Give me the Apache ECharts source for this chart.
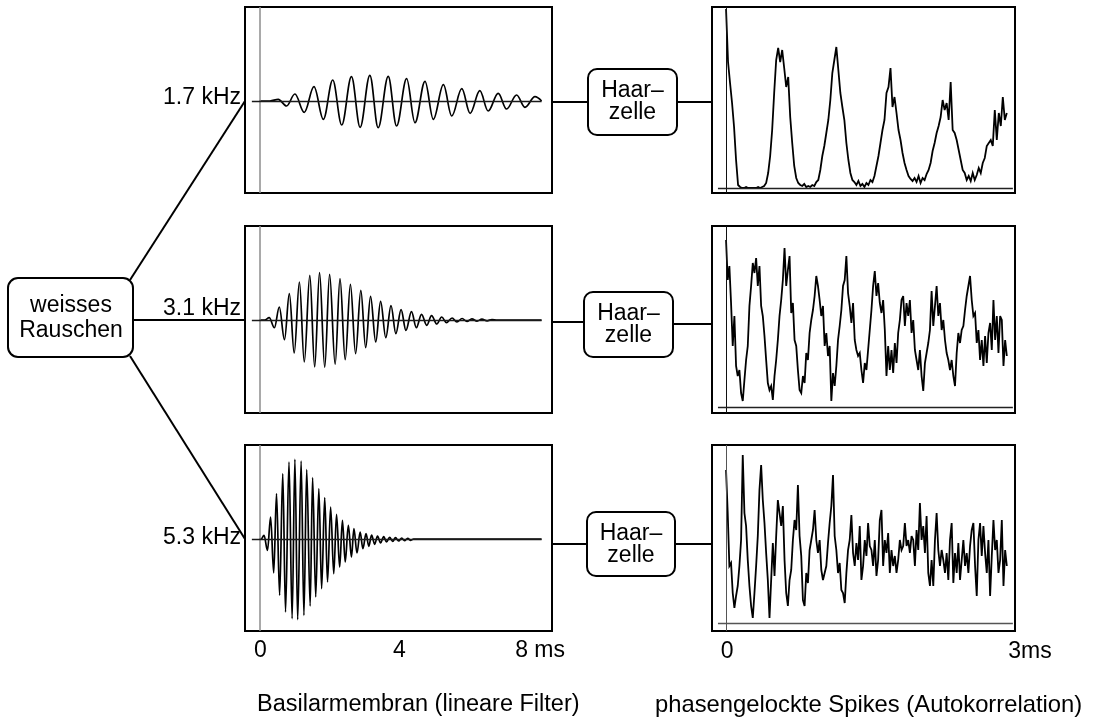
<!DOCTYPE html>
<html>
<head>
<meta charset="utf-8">
<script src="https://cdn.jsdelivr.net/npm/echarts@6/dist/echarts.min.js"></script>
<style>
  html, body { margin: 0; padding: 0; background: #fff; }
  #chart { width: 1099px; height: 719px; }
</style>
</head>
<body>
<div id="chart"></div>
<script>
// ---- Basilar membrane impulse responses: successive extrema (time in ms, amplitude arb. units) ----
const bm17Time = [0, 0.30, 0.54, 0.78, 1.02, 1.29, 1.57, 1.84, 2.11, 2.37, 2.65, 2.90, 3.18, 3.42, 3.71, 3.95, 4.24, 4.48, 4.77, 5.01, 5.30, 5.54, 5.83, 6.07, 6.35, 6.59, 6.88, 7.12, 7.41, 7.65, 7.94, 8.13];
const bm17Amp  = [0, 0, 1.7, -5, 7, -11.3, 14.3, -18.3, 21, -24, 24.3, -26.3, 25.7, -26.7, 24.7, -25, 22.3, -21.7, 19.7, -18.3, 16.3, -15, 12.3, -12.3, 10.3, -10, 7.7, -8, 6, -6.3, 4.3, 0];

const bm31Time = [0, 0.15, 0.28, 0.43, 0.57, 0.72, 0.86, 1.00, 1.15, 1.29, 1.45, 1.59, 1.73, 1.88, 2.02, 2.18, 2.32, 2.47, 2.62, 2.77, 2.92, 3.06, 3.20, 3.35, 3.49, 3.64, 3.79, 3.93, 4.08, 4.22, 4.38, 4.52, 4.67, 4.82, 4.96, 5.11, 5.25, 5.39, 5.55, 5.69, 5.84, 5.98, 6.12, 6.27, 6.41, 6.56, 6.70, 6.85, 8.13];
const bm31Amp  = [0, 0, 2.3, -7.7, 13, -19.7, 26.3, -33, 38, -42, 44.7, -47, 47.3, -47.3, 45.7, -44.3, 41.3, -39.7, 35.7, -33.7, 29.7, -27.7, 23.7, -22, 18.7, -17.7, 14.3, -13.7, 10.3, -10.3, 8.3, -7.7, 5.7, -5.3, 4.3, -4, 3, -2.7, 2, -2, 1.5, -1.5, 1.2, -1.1, 0.9, -0.8, 0.5, 0, 0];

const bm53Time = [0, 0.05, 0.13, 0.23, 0.32, 0.41, 0.49, 0.58, 0.67, 0.75, 0.85, 0.94, 1.02, 1.10, 1.20, 1.28, 1.36, 1.46, 1.53, 1.62, 1.71, 1.79, 1.88, 1.96, 2.05, 2.14, 2.22, 2.31, 2.39, 2.47, 2.56, 2.65, 2.72, 2.81, 2.90, 2.98, 3.07, 3.15, 3.23, 3.32, 3.40, 3.49, 3.58, 3.66, 3.75, 3.84, 3.92, 4.01, 4.10, 4.18, 4.27, 4.36, 4.44, 8.13];
const bm53Amp  = [0, 0, 3.7, -11.3, 22, -34, 45.3, -56.3, 65.3, -73, 77, -79.7, 79.7, -80.7, 78, -76.3, 69.3, -67, 61.3, -58, 50.3, -49.7, 41.3, -43, 32, -34.7, 24.7, -28, 18.7, -23, 13.7, -18, 10.3, -14, 7, -9.7, 5.3, -7.3, 4, -5.3, 3, -4, 2.3, -3, 1.7, -2.3, 1.3, -2, 1, -1.7, 0.7, -1.3, 0, 0];

// ---- Autocorrelation of phase-locked spikes, sampled evenly from 0 to LAG_END_MS ----
const LAG_END_MS = 2.78;
const acTop = [179, 126, 105, 85, 61, 28, 3, 1, 0, 0, 1, 0, 0, 0, 0, 0, 1, 0, 1, 2, 5, 15, 32, 58, 95, 128, 140, 126, 138, 120, 101, 111, 71, 45, 22, 10, 5, 3, 2, 4, 1, 2, 1, 3, 2, 6, 8, 18, 32, 42, 55, 68, 88, 115, 128, 141, 118, 95, 81, 68, 45, 28, 15, 8, 6, 3, 7, 2, 4, 1, 5, 3, 8, 6, 12, 22, 32, 45, 58, 68, 95, 101, 120, 81, 91, 75, 58, 48, 35, 25, 18, 12, 9, 7, 10, 6, 12, 5, 10, 8, 14, 18, 25, 37, 45, 55, 62, 71, 88, 78, 85, 68, 106, 58, 55, 48, 38, 28, 18, 15, 8, 12, 7, 15, 8, 13, 20, 15, 25, 30, 42, 45, 48, 42, 78, 48, 75, 62, 91, 68, 75];
const acMid = [167, 127, 141, 104, 61, 91, 41, 31, 37, 14, 6, 27, 47, 61, 101, 121, 144, 134, 149, 121, 141, 101, 91, 71, 47, 24, 17, 21, 7, 31, 47, 67, 91, 107, 127, 159, 121, 137, 151, 94, 104, 67, 61, 37, 17, 14, 31, 24, 54, 47, 74, 87, 97, 111, 131, 121, 107, 91, 101, 61, 74, 51, 61, 6, 34, 21, 41, 67, 81, 97, 121, 127, 151, 114, 101, 84, 104, 67, 57, 51, 54, 37, 24, 44, 37, 57, 77, 97, 121, 136, 111, 124, 104, 94, 107, 77, 31, 61, 37, 57, 34, 64, 44, 74, 87, 107, 111, 81, 104, 91, 107, 74, 87, 57, 47, 37, 57, 31, 16, 44, 54, 64, 77, 116, 81, 101, 121, 91, 104, 77, 87, 67, 54, 47, 37, 47, 31, 21, 54, 74, 64, 77, 81, 97, 111, 121, 131, 107, 91, 94, 64, 77, 47, 67, 41, 71, 44, 74, 84, 57, 107, 67, 91, 54, 91, 87, 41, 67, 51];
const acBot = [153, 110, 57, 60, 30, 15, 27, 37, 57, 83, 168, 110, 97, 63, 37, 17, 5, 30, 57, 87, 133, 158, 123, 100, 70, 43, 5, 43, 80, 47, 87, 123, 110, 97, 117, 63, 30, 17, 43, 53, 83, 103, 93, 138, 87, 67, 23, 17, 50, 40, 73, 83, 93, 113, 83, 70, 83, 53, 43, 50, 57, 80, 100, 117, 148, 87, 73, 50, 60, 33, 30, 20, 50, 73, 83, 108, 70, 57, 80, 63, 97, 43, 57, 83, 67, 100, 77, 73, 57, 83, 47, 63, 103, 113, 57, 83, 70, 90, 50, 73, 57, 67, 50, 63, 83, 73, 77, 100, 77, 83, 70, 87, 83, 57, 93, 73, 120, 83, 97, 70, 107, 50, 37, 63, 37, 83, 110, 73, 57, 73, 63, 50, 70, 43, 83, 100, 40, 70, 50, 80, 43, 63, 83, 57, 70, 50, 77, 93, 100, 57, 27, 83, 100, 67, 97, 70, 50, 83, 27, 67, 103, 73, 83, 50, 63, 103, 37, 73, 57];

// ---- Texts and tick labels ----
const filterLabels = ['1.7 kHz', '3.1 kHz', '5.3 kHz'];
const sourceLabel = ['weisses', 'Rauschen'];
const hairCellLabel = ['Haar\u2013', 'zelle'];
const bmTicks = [0, 4, 8];
const bmTickText = ['0', '4', '8 ms'];
const acTicks = [0, 3];
const acTickText = ['0', '3ms'];
const captions = ['Basilarmembran (lineare Filter)', 'phasengelockte Spikes (Autokorrelation)'];

// ---- Layout ----
const FONT = '"Liberation Sans", Arial, Helvetica, sans-serif';
const rows = [{ top: 7, height: 186 }, { top: 226, height: 187 }, { top: 445, height: 186 }];
const LEFT = { left: 245, width: 307, xMin: -0.418, xMax: 8.43 };
const RIGHT = { left: 712, width: 303, xMin: -0.139, xMax: 2.861 };
const bmY = [[-92, 94], [-93, 94], [-92, 94]];
const acY = [[-5, 181], [-6, 181], [-8, 178]];

const chart = echarts.init(document.getElementById('chart'), null, { renderer: 'canvas' });

const grids = [], xAxes = [], yAxes = [], series = [];

function addPanel(cfg, row, yr) {
  const idx = grids.length;
  grids.push({
    left: cfg.left, top: row.top, width: cfg.width, height: row.height,
    show: true, borderColor: '#000', borderWidth: 2, backgroundColor: 'transparent', containLabel: false
  });
  xAxes.push({ type: 'value', gridIndex: idx, min: cfg.xMin, max: cfg.xMax, show: false });
  yAxes.push({ type: 'value', gridIndex: idx, min: yr[0], max: yr[1], show: false });
  return idx;
}

function markLines(zeroColor, zeroWidth, span, baseColor) {
  return {
    silent: true, symbol: ['none', 'none'], animation: false,
    label: { show: false }, emphasis: { disabled: true },
    lineStyle: { type: 'solid', color: baseColor, width: 1.3 },
    data: [
      { xAxis: 0, lineStyle: { type: 'solid', color: zeroColor, width: zeroWidth } },
      [{ coord: [span[0], 0] }, { coord: [span[1], 0] }]
    ]
  };
}

const bmSets = [[bm17Time, bm17Amp], [bm31Time, bm31Amp], [bm53Time, bm53Amp]];
bmSets.forEach((set, r) => {
  const idx = addPanel(LEFT, rows[r], bmY[r]);
  series.push({
    type: 'line', xAxisIndex: idx, yAxisIndex: idx,
    data: set[0].map((t, i) => [t, set[1][i]]),
    smooth: 0.36, smoothMonotone: 'x',
    symbol: 'none', showSymbol: false, animation: false,
    lineStyle: { color: '#000', width: 1.7 },
    markLine: markLines('#8c8c8c', 1.5, [-0.22, 8.13], '#1a1a1a')
  });
});

const acSets = [acTop, acMid, acBot];
acSets.forEach((vals, r) => {
  const idx = addPanel(RIGHT, rows[r], acY[r]);
  const step = LAG_END_MS / (vals.length - 1);
  series.push({
    type: 'line', xAxisIndex: idx, yAxisIndex: idx,
    data: vals.map((v, i) => [i * step, v]),
    symbol: 'none', showSymbol: false, animation: false,
    lineStyle: { color: '#000', width: 1.8, join: 'miter', miterLimit: 4 },
    markLine: markLines(r === 2 ? '#555' : '#111', 1, [-0.08, 2.84], r === 2 ? '#555' : '#222')
  });
});

chart.setOption({
  animation: false,
  grid: grids, xAxis: xAxes, yAxis: yAxes, series: series
});

// ---- Block diagram, labels and tick labels ----
const g = [];
const font = s => s + 'px ' + FONT;
function line(x1, y1, x2, y2) {
  g.push({ type: 'line', z: 10, silent: true, shape: { x1, y1, x2, y2 }, style: { stroke: '#000', lineWidth: 2 } });
}
function text(str, x, y, size, align) {
  g.push({ type: 'text', z: 12, silent: true, x, y,
    style: { text: str, font: font(size), fill: '#000', align: align || 'center', verticalAlign: 'middle' } });
}
function box(x, y, w, h, r, lines, cx, y0, dy, size) {
  g.push({ type: 'rect', z: 11, silent: true, shape: { x, y, width: w, height: h, r },
    style: { fill: '#fff', stroke: '#000', lineWidth: 2 } });
  lines.forEach((s, i) => text(s, cx, y0 + i * dy, size));
}

// noise source and its three filter branches
line(130, 280, 245, 101);
line(133, 320, 245, 320);
line(130, 356, 245, 539);
box(8, 278, 125, 79, 10, sourceLabel, 71, 306, 25, 23);

text(filterLabels[0], 241, 98, 23, 'right');
text(filterLabels[1], 241, 309, 23, 'right');
text(filterLabels[2], 241, 538, 23, 'right');

// hair cell stages between the filter outputs and the spike autocorrelation
const hair = [
  { x: 588, y: 69, w: 89, h: 66, yl: 102, yr: 102 },
  { x: 584, y: 292, w: 89, h: 65, yl: 322, yr: 324 },
  { x: 587, y: 512, w: 88, h: 64, yl: 544, yr: 544 }
];
hair.forEach(b => {
  line(552, b.yl, b.x, b.yl);
  line(b.x + b.w, b.yr, 712, b.yr);
  box(b.x, b.y, b.w, b.h, 9, hairCellLabel, b.x + b.w / 2, b.y + 22, 22, 23);
});

// tick labels under the bottom row
bmTicks.forEach((v, i) => {
  const px = chart.convertToPixel({ xAxisIndex: 2 }, v);
  text(bmTickText[i], px + (i === 2 ? 3 : 1), 651, 23);
});
acTicks.forEach((v, i) => {
  const px = chart.convertToPixel({ xAxisIndex: 5 }, v);
  text(acTickText[i], px + 1, 652, 23);
});

text(captions[0], 257, 705, 23.5, 'left');
text(captions[1], 655, 705, 23.8, 'left');

chart.setOption({ graphic: { elements: g } });
</script>
</body>
</html>
